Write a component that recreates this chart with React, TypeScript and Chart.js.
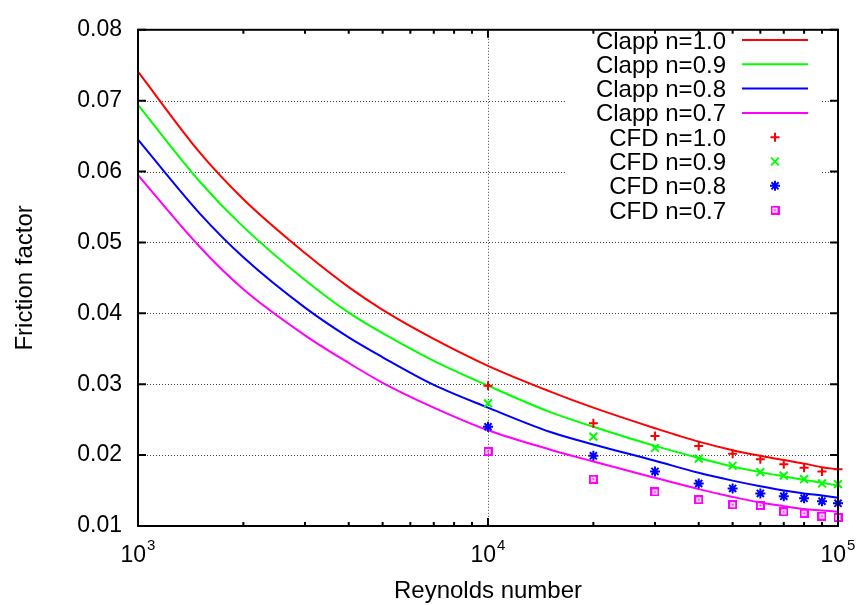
import React, { useEffect, useRef } from 'react';
import { Chart, registerables } from 'chart.js';
import { drawPoint } from 'chart.js/helpers';

Chart.register(...registerables);

// ---------- data ----------
const reCurve = [1000, 1500, 2000, 3000, 4000, 5000, 7000, 10000, 15000, 20000, 30000, 40000, 50000, 60000, 70000, 80000, 90000, 100000];
const clapp10 = [0.0741, 0.0627, 0.0561, 0.0485, 0.0437, 0.0405, 0.0364, 0.0326, 0.0290, 0.0267, 0.0238, 0.0219, 0.0207, 0.0199, 0.0193, 0.0188, 0.0183, 0.0180];
const clapp09 = [0.0694, 0.0586, 0.0522, 0.0447, 0.0401, 0.0372, 0.0333, 0.0298, 0.0261, 0.0240, 0.0213, 0.0196, 0.0184, 0.0176, 0.0170, 0.0165, 0.0161, 0.0157];
const clapp08 = [0.0645, 0.0541, 0.0479, 0.0408, 0.0366, 0.0338, 0.0299, 0.0267, 0.0233, 0.0215, 0.0192, 0.0175, 0.0164, 0.0156, 0.0150, 0.0146, 0.0143, 0.0140];
const clapp07 = [0.0595, 0.0494, 0.0434, 0.0369, 0.0330, 0.0302, 0.0267, 0.0235, 0.0208, 0.0191, 0.0168, 0.0152, 0.0141, 0.0133, 0.0128, 0.0124, 0.0122, 0.0120];

const reCfd = [10000, 20000, 30000, 40000, 50000, 60000, 70000, 80000, 90000, 100000];
const cfd10 = [0.0298, 0.0245, 0.0227, 0.0213, 0.0202, 0.0194, 0.0187, 0.0182, 0.0177, 0.0180];
const cfd09 = [0.0273, 0.0226, 0.0210, 0.0195, 0.0185, 0.0176, 0.0171, 0.0166, 0.0160, 0.0159];
const cfd08 = [0.0240, 0.0199, 0.0177, 0.0160, 0.0153, 0.0146, 0.0142, 0.0139, 0.0135, 0.0132];
const cfd07 = [0.0205, 0.0166, 0.0148, 0.0137, 0.0130, 0.0129, 0.0120, 0.0118, 0.0114, 0.0112];

const xMajorTicks = [1000, 10000, 100000];
const xTickExponents = ['3', '4', '5'];
const xMinorTicks = [2000, 3000, 4000, 5000, 6000, 7000, 8000, 9000, 20000, 30000, 40000, 50000, 60000, 70000, 80000, 90000];
const yTicks = [0.01, 0.02, 0.03, 0.04, 0.05, 0.06, 0.07, 0.08];

const lineLabels = ['Clapp n=1.0', 'Clapp n=0.9', 'Clapp n=0.8', 'Clapp n=0.7'];
const pointLabels = ['CFD n=1.0', 'CFD n=0.9', 'CFD n=0.8', 'CFD n=0.7'];
const xTitle = 'Reynolds number';
const yTitle = 'Friction factor';

// ---------- styles ----------
const FONT = '"Liberation Sans", Arial, Helvetica, sans-serif';
const COLORS = ['#ff0000', '#00ff00', '#0000ff', '#ff00ff'];

function makeSquare(color: string) {
  const c = document.createElement('canvas');
  c.width = 9;
  c.height = 9;
  const g = c.getContext('2d')!;
  g.strokeStyle = color;
  g.lineWidth = 2;
  g.strokeRect(1, 1, 7, 7);
  g.fillStyle = color;
  g.fillRect(3.5, 3.5, 2, 2);
  return c;
}

export default function App() {
  const ref = useRef<HTMLCanvasElement | null>(null);

  useEffect(() => {
    document.body.style.margin = '0';
    const canvas = ref.current!;
    const square = makeSquare(COLORS[3]);
    const pointStyles: any[] = ['cross', 'crossRot', 'star', square];
    const pointRadii = [4.5, 5.5, 5, 4.5];
    const curves = [clapp10, clapp09, clapp08, clapp07];
    const cfds = [cfd10, cfd09, cfd08, cfd07];

    const lineSets = curves.map((arr, i) => ({
      label: lineLabels[i],
      data: reCurve.map((x, j) => ({ x, y: arr[j] })),
      borderColor: COLORS[i],
      backgroundColor: COLORS[i],
      borderWidth: 2,
      pointRadius: 0,
      cubicInterpolationMode: 'monotone' as const,
      order: 10 + i,
      clip: false as any,
    }));
    const pointSets = cfds.map((arr, i) => ({
      label: pointLabels[i],
      data: reCfd.map((x, j) => ({ x, y: arr[j] })),
      showLine: false,
      borderColor: COLORS[i],
      backgroundColor: COLORS[i],
      pointStyle: pointStyles[i],
      pointRadius: pointRadii[i],
      pointBorderWidth: 2,
      order: 4 - i,
      clip: false as any,
    }));

    const decor = {
      id: 'gnuplotDecor',
      beforeDatasetsDraw(chart: any) {
        const { ctx, chartArea: a, scales } = chart;
        const x = scales.x;
        const y = scales.y;
        ctx.save();
        ctx.strokeStyle = '#444';
        ctx.lineWidth = 1;
        ctx.setLineDash([1, 2]);
        yTicks.forEach((v) => {
          if (v <= y.min || v >= y.max) return;
          const py = Math.round(y.getPixelForValue(v)) + 0.5;
          ctx.beginPath();
          ctx.moveTo(a.left, py);
          ctx.lineTo(a.right, py);
          ctx.stroke();
        });
        xMajorTicks.forEach((v) => {
          if (v <= x.min || v >= x.max) return;
          const px = Math.round(x.getPixelForValue(v)) + 0.5;
          ctx.beginPath();
          ctx.moveTo(px, a.top);
          ctx.lineTo(px, a.bottom);
          ctx.stroke();
        });
        ctx.setLineDash([]);
        // opaque key box
        ctx.fillStyle = '#ffffff';
        ctx.fillRect(567, 27, 255, 196);
        ctx.restore();
      },
      afterDatasetsDraw(chart: any) {
        const { ctx, chartArea: a, scales } = chart;
        const x = scales.x;
        const y = scales.y;
        ctx.save();
        // border
        ctx.strokeStyle = '#000';
        ctx.lineWidth = 2;
        ctx.strokeRect(a.left, a.top, a.right - a.left, a.bottom - a.top);
        // ticks
        ctx.beginPath();
        yTicks.forEach((v) => {
          const py = y.getPixelForValue(v);
          ctx.moveTo(a.left, py);
          ctx.lineTo(a.left + 8, py);
          ctx.moveTo(a.right, py);
          ctx.lineTo(a.right - 8, py);
        });
        xMajorTicks.forEach((v) => {
          const px = x.getPixelForValue(v);
          ctx.moveTo(px, a.bottom);
          ctx.lineTo(px, a.bottom - 8);
          ctx.moveTo(px, a.top);
          ctx.lineTo(px, a.top + 8);
        });
        xMinorTicks.forEach((v) => {
          const px = x.getPixelForValue(v);
          ctx.moveTo(px, a.bottom);
          ctx.lineTo(px, a.bottom - 4);
          ctx.moveTo(px, a.top);
          ctx.lineTo(px, a.top + 4);
        });
        ctx.stroke();

        // x tick labels with exponent
        ctx.fillStyle = '#000';
        ctx.textBaseline = 'alphabetic';
        ctx.textAlign = 'left';
        xMajorTicks.forEach((v, i) => {
          const px = x.getPixelForValue(v);
          ctx.font = `23px ${FONT}`;
          const wb = ctx.measureText('10').width;
          ctx.font = `15px ${FONT}`;
          const we = ctx.measureText(xTickExponents[i]).width;
          const start = px - (wb + we + 1) / 2;
          ctx.font = `23px ${FONT}`;
          ctx.fillText('10', start, a.bottom + 36);
          ctx.font = `15px ${FONT}`;
          ctx.fillText(xTickExponents[i], start + wb + 1, a.bottom + 24);
        });

        // axis titles
        ctx.font = `24px ${FONT}`;
        ctx.textAlign = 'center';
        ctx.fillText(xTitle, (a.left + a.right) / 2, a.bottom + 71.5);
        ctx.save();
        ctx.translate(32, (a.top + a.bottom) / 2);
        ctx.rotate(-Math.PI / 2);
        ctx.fillText(yTitle, 0, 0);
        ctx.restore();

        // key
        const textRight = 726;
        const sampleL = 742;
        const sampleR = 808;
        const sampleC = 775;
        const rowTop = 40;
        const rowStep = 24.3;
        const labels = [...lineLabels, ...pointLabels];
        labels.forEach((lab, i) => {
          const cy = rowTop + i * rowStep;
          ctx.font = `24px ${FONT}`;
          ctx.textAlign = 'right';
          ctx.fillStyle = '#000';
          ctx.fillText(lab, textRight, cy + 8.5);
          const ci = i % 4;
          ctx.strokeStyle = COLORS[ci];
          ctx.fillStyle = COLORS[ci];
          ctx.lineWidth = 2;
          if (i < 4) {
            ctx.beginPath();
            ctx.moveTo(sampleL, cy);
            ctx.lineTo(sampleR, cy);
            ctx.stroke();
          } else {
            drawPoint(ctx, { pointStyle: pointStyles[ci], radius: pointRadii[ci], rotation: 0, borderWidth: 2 } as any, sampleC, cy);
          }
        });
        ctx.restore();
      },
    };

    const chart = new Chart(canvas, {
      type: 'line',
      data: { datasets: [...lineSets, ...pointSets] as any },
      options: {
        animation: false,
        responsive: false,
        events: [],
        layout: { padding: { top: 20, right: 21, left: 0, bottom: 0 } },
        plugins: { legend: { display: false }, tooltip: { enabled: false } },
        scales: {
          x: {
            type: 'logarithmic',
            min: 1000,
            max: 100000,
            ticks: { display: false },
            grid: { display: false, drawTicks: false },
            border: { display: false },
            afterFit: (s: any) => {
              s.height = 79;
            },
          },
          y: {
            type: 'linear',
            min: 0.01,
            max: 0.08,
            afterBuildTicks: (s: any) => {
              s.ticks = yTicks.map((v) => ({ value: v }));
            },
            ticks: {
              callback: (v: any) => Number(v).toFixed(2),
              font: { family: FONT, size: 23 },
              color: '#000',
              padding: 16,
            },
            grid: { display: false, drawTicks: false },
            border: { display: false },
            afterFit: (s: any) => {
              s.width = 138;
            },
          },
        },
      },
      plugins: [decor],
    });
    return () => chart.destroy();
  }, []);

  return (
    <div style={{ width: 859, height: 605 }}>
      <canvas ref={ref} width={859} height={605} style={{ display: 'block' }} />
    </div>
  );
}
